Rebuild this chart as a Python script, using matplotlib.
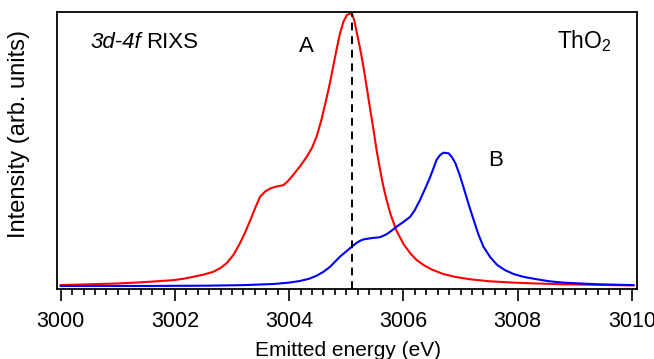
import matplotlib
matplotlib.use("Agg")
import matplotlib.pyplot as plt
from matplotlib.ticker import MultipleLocator

plt.rcParams['font.family'] = ['Liberation Sans', 'DejaVu Sans']
plt.rcParams['mathtext.fontset'] = 'custom'
plt.rcParams['mathtext.rm'] = 'Liberation Sans'
plt.rcParams['mathtext.it'] = 'Liberation Sans:italic'

# RIXS spectra, emitted energy (eV) vs normalised intensity
energy_a = [3000.0, 3000.5, 3001.0, 3001.39, 3001.7, 3001.97, 3002.15, 3002.32,
            3002.5, 3002.67, 3002.8, 3002.91, 3003.03, 3003.14, 3003.23, 3003.32,
            3003.41, 3003.49, 3003.58, 3003.67, 3003.78, 3003.90, 3003.98, 3004.07,
            3004.19, 3004.31, 3004.40, 3004.48, 3004.57, 3004.66, 3004.72, 3004.77,
            3004.83, 3004.89, 3004.95, 3005.01, 3005.05, 3005.10, 3005.14, 3005.18,
            3005.24, 3005.30, 3005.36, 3005.42, 3005.48, 3005.53, 3005.59, 3005.65,
            3005.71, 3005.77, 3005.83, 3005.88, 3006.0, 3006.12, 3006.23, 3006.35,
            3006.5, 3006.70, 3006.9, 3007.17, 3007.5, 3007.93, 3008.3, 3008.80,
            3009.4, 3010.03]
intensity_a = [0.014, 0.017, 0.020, 0.024, 0.028, 0.032, 0.037, 0.044,
               0.052, 0.062, 0.076, 0.094, 0.125, 0.166, 0.205, 0.249,
               0.295, 0.333, 0.352, 0.363, 0.370, 0.375, 0.390, 0.412,
               0.443, 0.478, 0.510, 0.550, 0.615, 0.694, 0.750, 0.803,
               0.865, 0.923, 0.965, 0.989, 0.993, 0.993, 0.970, 0.929,
               0.870, 0.803, 0.725, 0.646, 0.570, 0.502, 0.432, 0.369,
               0.318, 0.273, 0.238, 0.210, 0.163, 0.129, 0.105, 0.087,
               0.070, 0.054, 0.044, 0.035, 0.028, 0.023, 0.020, 0.017,
               0.015, 0.013]

energy_b = [3000.0, 3001.5, 3002.56, 3003.2, 3003.72, 3004.0, 3004.19, 3004.35,
            3004.48, 3004.6, 3004.72, 3004.8, 3004.89, 3005.0, 3005.10, 3005.17,
            3005.24, 3005.30, 3005.45, 3005.59, 3005.7, 3005.79, 3005.88, 3006.0,
            3006.12, 3006.2, 3006.29, 3006.38, 3006.47, 3006.53, 3006.58, 3006.64,
            3006.70, 3006.79, 3006.85, 3006.91, 3006.98, 3007.05, 3007.14, 3007.23,
            3007.31, 3007.40, 3007.52, 3007.64, 3007.78, 3007.93, 3008.1, 3008.34,
            3008.55, 3008.80, 3009.4, 3010.03]
intensity_b = [0.011, 0.011, 0.012, 0.014, 0.018, 0.023, 0.029, 0.037,
               0.048, 0.062, 0.081, 0.098, 0.117, 0.136, 0.153, 0.165,
               0.174, 0.179, 0.184, 0.187, 0.197, 0.210, 0.225, 0.242,
               0.261, 0.285, 0.321, 0.362, 0.405, 0.438, 0.466, 0.483,
               0.492, 0.490, 0.476, 0.454, 0.415, 0.369, 0.307, 0.249,
               0.199, 0.153, 0.115, 0.087, 0.068, 0.054, 0.044, 0.035,
               0.028, 0.023, 0.017, 0.014]

peak_a = 3005.1

W, H = 654, 359
fig = plt.figure(figsize=(W / 100, H / 100), dpi=100)
ax = fig.add_axes([57.3 / W, 70 / H, (637 - 57.3) / W, 277 / H])

ax.plot(energy_a, intensity_a, color='#ff0000', lw=1.5)
ax.plot(energy_b, intensity_b, color='#0000ff', lw=1.5)
ax.axvline(peak_a, color='black', lw=1.4, dashes=(4, 3))

ax.set_xlim(2999.94, 3010.09)
ax.set_ylim(0, 1)
ax.xaxis.set_major_locator(MultipleLocator(2))
ax.xaxis.set_minor_locator(MultipleLocator(0.2))
ax.tick_params(axis='x', which='major', direction='out', length=8.5, width=1.2,
               labelsize=15.5, pad=7)
ax.tick_params(axis='x', which='minor', direction='out', length=4.5, width=1.2)
ax.set_yticks([])
for s in ax.spines.values():
    s.set_linewidth(1.3)

# axis titles
fig.text(348 / W, 2.5 / H, 'Emitted energy (eV)', fontsize=15, ha='center', va='baseline')
fig.text(19.5 / W, 1 - 134 / H, 'Intensity (arb. units)', fontsize=17, rotation=90,
         ha='center', va='center')

# annotations: italic transition label followed by upright "RIXS"
t_it = fig.text(90 / W, 1 - 47.7 / H, '3d-4f', fontsize=16, style='italic',
                ha='left', va='baseline')
renderer = fig.canvas.get_renderer()
x_end = t_it.get_window_extent(renderer).x1
fig.text((x_end + 5) / W, 1 - 47.7 / H, 'RIXS', fontsize=16, ha='left', va='baseline')
fig.text(306 / W, 1 - 52 / H, 'A', fontsize=16, ha='center', va='baseline')
fig.text(495.5 / W, 1 - 166 / H, 'B', fontsize=16, ha='center', va='baseline')
fig.text(557 / W, 1 - 48.3 / H, r'ThO$_2$', fontsize=16.5, ha='left', va='baseline')

fig.savefig('out.png', dpi=100)
